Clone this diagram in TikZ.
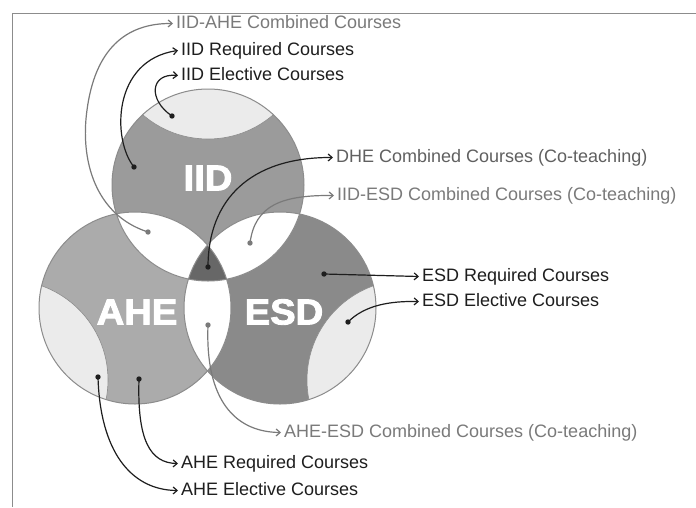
\documentclass[tikz,border=0pt]{standalone}
\usepackage{fontspec}
\setmainfont{Liberation Sans}
\newfontfamily\heavyfont[BoldFeatures={FakeBold=2.5}]{Liberation Sans}
\usetikzlibrary{arrows.meta}
\definecolor{cIID}{HTML}{9B9B9B}
\definecolor{cAHE}{HTML}{ABABAB}
\definecolor{cESD}{HTML}{8A8A8A}
\definecolor{cTri}{HTML}{676767}
\definecolor{cEle}{HTML}{EBEBEB}
\definecolor{cLine}{HTML}{8C8C8C}
\definecolor{cGrayTxt}{HTML}{7A7A7A}
\definecolor{cMidTxt}{HTML}{606060}
\definecolor{cDark}{HTML}{1E1E1E}
\tikzset{
  lbl/.style={anchor=base west, inner xsep=3pt, inner ysep=1pt, text height=13pt, text depth=4pt,
    font=\fontsize{18}{20}\selectfont},
  big/.style={text=white, inner sep=0pt, font=\fontsize{36}{36}\selectfont\heavyfont\bfseries},
  darr/.style={draw=cDark, line width=1.2pt, -{Straight Barb[length=4pt,width=7pt]}},
  garr/.style={draw=cGrayTxt, line width=1.2pt, -{Straight Barb[length=4pt,width=7pt]}},
  outline/.style={draw=cLine, line width=1pt},
}
\begin{document}
\begin{tikzpicture}[x=1pt,y=-1pt]
\useasboundingbox (0,0) rectangle (696,507);
\fill[white] (0,0) rectangle (696,507);
% frame
\draw[cLine, line width=1pt] (696,13) -- (12,13) -- (12,507);
% circle centres
\coordinate (cI) at (208,185);
\coordinate (cA) at (135,308);
\coordinate (cE) at (280,308);
\coordinate (kI) at (208,39);
\coordinate (kA) at (8,380);
\coordinate (kE) at (407,380);
% base fills
\fill[cIID] (cI) circle[radius=96pt];
\fill[cAHE] (cA) circle[radius=96pt];
\fill[cESD] (cE) circle[radius=96pt];
% elective caps
\begin{scope}\clip (cI) circle[radius=96pt];
  \fill[cEle] (kI) circle[radius=100pt]; \draw[outline, line width=0.6pt] (kI) circle[radius=100pt];
\end{scope}
\begin{scope}\clip (cA) circle[radius=96pt];
  \fill[cEle] (kA) circle[radius=100pt]; \draw[outline, line width=0.6pt] (kA) circle[radius=100pt];
\end{scope}
\begin{scope}\clip (cE) circle[radius=96pt];
  \fill[cEle] (kE) circle[radius=100pt]; \draw[outline, line width=0.6pt] (kE) circle[radius=100pt];
\end{scope}
% pairwise intersections
\begin{scope}\clip (cI) circle[radius=96pt];
  \fill[white] (cA) circle[radius=96pt];
  \fill[white] (cE) circle[radius=96pt];
\end{scope}
\begin{scope}\clip (cA) circle[radius=96pt];
  \fill[white] (cE) circle[radius=96pt];
\end{scope}
% triple intersection
\begin{scope}\clip (cI) circle[radius=96pt]; \clip (cA) circle[radius=96pt];
  \fill[cTri] (cE) circle[radius=96pt];
\end{scope}
% outlines
\draw[outline] (cI) circle[radius=96pt];
\draw[outline] (cA) circle[radius=96pt];
\draw[outline] (cE) circle[radius=96pt];
% big labels
\node[big] (tI) at (208,178) {\scalebox{1.06}[1]{IID}};
\node[big] (tA) at (137,312) {\scalebox{1.06}[1]{AHE}};
\node[big] (tE) at (284,312) {\scalebox{1.06}[1]{ESD}};
% dots
\coordinate (d1) at (148,232);
\coordinate (d2) at (134,167);
\coordinate (d3) at (172,116);
\coordinate (d4) at (208,267);
\coordinate (d5) at (250,243);
\coordinate (d6) at (324,274);
\coordinate (d7) at (348,322);
\coordinate (d8) at (208,325);
\coordinate (d9) at (139,379);
\coordinate (d10) at (98,377);
\foreach \d/\c in {d1/cGrayTxt,d2/cDark,d3/cDark,d4/cDark,d5/cGrayTxt,d6/cDark,d7/cDark,d8/cGrayTxt,d9/cDark,d10/cDark}
  \fill[\c] (\d) circle[radius=2.7pt];
% labels
\node[lbl, text=cGrayTxt] (l1) at (173,28) {IID-AHE Combined Courses};
\node[lbl, text=cDark] (l2) at (178,55) {IID Required Courses};
\node[lbl, text=cDark] (l3) at (178,80) {IID Elective Courses};
\node[lbl, text=cMidTxt] (l4) at (333,162) {DHE Combined Courses (Co-teaching)};
\node[lbl, text=cGrayTxt] (l5) at (334,200) {IID-ESD Combined Courses (Co-teaching)};
\node[lbl, text=cDark] (l6) at (419,281) {ESD Required Courses};
\node[lbl, text=cDark] (l7) at (419,306) {ESD Elective Courses};
\node[lbl, text=cGrayTxt] (l8) at (281,437) {AHE-ESD Combined Courses (Co-teaching)};
\node[lbl, text=cDark] (l9) at (178,468) {AHE Required Courses};
\node[lbl, text=cDark] (l10) at (178,495) {AHE Elective Courses};
% connectors
\draw[garr] (d1) .. controls (95,215) and (80,160) .. (87,110) .. controls (95,50) and (125,23) .. (l1.west);
\draw[darr] (d2) .. controls (112,140) and (112,60) .. (l2.west);
\draw[darr] (d3) .. controls (148,100) and (150,73) .. (l3.west);
\draw[darr] (d4) .. controls (208,200) and (250,157) .. (l4.west);
\draw[garr] (d5) .. controls (255,205) and (282,195) .. (l5.west);
\draw[darr] (d6) -- (l6.west);
\draw[darr] (d7) .. controls (365,305) and (390,301) .. (l7.west);
\draw[garr] (d8) .. controls (205,400) and (235,432) .. (l8.west);
\draw[darr] (d9) .. controls (137,440) and (150,463) .. (l9.west);
\draw[darr] (d10) .. controls (100,450) and (130,490) .. (l10.west);
\end{tikzpicture}
\end{document}
